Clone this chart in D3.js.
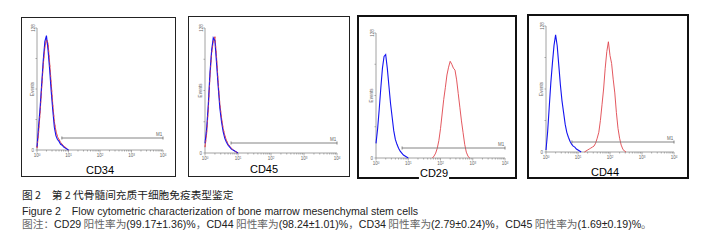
<!DOCTYPE html>
<html lang="zh">
<head>
  <meta charset="UTF-8">
  <title>flow-cytometry-histograms</title>
  <script src="https://cdn.jsdelivr.net/npm/d3@7"></script>
  <style>
    body { margin: 0; background: #fff; }
    svg { display: block; }
  </style>
</head>
<body>
<svg></svg>
<script>
  const width = 704, height = 241

  // 荧光强度位置 (log10 decade)，和每个位置的细胞数 (Events)，都是从图上估读的
  const lowDecades = [0, 0.05, 0.10, 0.15, 0.20, 0.25, 0.30, 0.35, 0.40, 0.45, 0.50,
    0.55, 0.60, 0.65, 0.70, 0.75, 0.80, 0.85, 0.90, 0.95, 1.00]
  const cd44LowDecades = [0, 0.05, 0.10, 0.15, 0.20, 0.25, 0.30, 0.35, 0.40, 0.45, 0.50,
    0.55, 0.60, 0.65, 0.70, 0.75, 0.80, 0.85, 0.90, 0.95, 1.00, 1.05, 1.10]
  const cd29HighDecades = [1.75, 1.80, 1.85, 1.90, 1.95, 2.00, 2.05, 2.10, 2.15, 2.20, 2.25, 2.30,
    2.35, 2.40, 2.45, 2.50, 2.55, 2.60, 2.65, 2.70, 2.75, 2.80, 2.85, 2.90]
  const cd44HighDecades = [1.20, 1.25, 1.30, 1.35, 1.40, 1.45, 1.50, 1.55, 1.60, 1.65, 1.70, 1.75,
    1.80, 1.85, 1.90, 1.95, 2.00, 2.05, 2.10, 2.15, 2.20, 2.25, 2.30, 2.35, 2.40, 2.45, 2.50]

  const cd34Blue = [3, 25, 45, 70, 95, 114, 120, 105, 85, 62, 42, 24, 15, 11, 9, 6, 5, 3, 2, 1, 0]
  const cd34Red = [2, 18, 40, 66, 90, 108, 116, 112, 92, 70, 48, 30, 20, 14, 11, 8, 6, 4, 3, 1, 0]
  const cd45Blue = [10, 25, 50, 82, 105, 118, 115, 92, 68, 46, 32, 22, 15, 11, 8, 6, 4, 3, 2, 1, 0]
  const cd45Red = [6, 20, 45, 78, 102, 114, 119, 98, 72, 50, 36, 25, 18, 13, 9, 7, 5, 3, 2, 1, 0]
  const cd29Blue = [15, 30, 50, 72, 92, 104, 106, 92, 74, 56, 42, 28, 19, 14, 10, 7, 5, 3, 2, 1, 0]
  const cd29Red = [0, 2, 5, 10, 18, 30, 45, 60, 72, 85, 93, 99, 96, 92, 90, 80, 66, 52, 38, 26, 14, 6, 2, 0]
  const cd44Blue = [2, 20, 45, 70, 90, 108, 119, 108, 88, 68, 52, 40, 28, 20, 15, 11, 8, 6, 5, 3, 2, 1, 0]
  const cd44Red = [0, 1, 2, 3, 4, 5, 6, 9, 14, 20, 32, 48, 64, 85, 102, 112, 98, 90, 74, 60, 40, 24, 14, 7, 3, 1, 0]

  const markers = ['CD34', 'CD45', 'CD29', 'CD44']
  const decadeLabels = ['0', '1', '2', '3', '4']
  const yMax = 128
  const m1Start = [0.79, 0.79, 0.81, 0.81]   // M1 门的起点 (decade)
  const captionTitle = '图 2　第 2 代骨髓间充质干细胞免疫表型鉴定'
  const captionEn = 'Figure 2　Flow cytometric characterization of bone marrow mesenchymal stem cells'
  const noteParts = [
    ['图注：', 'zh'], ['CD29', 'en'], [' 阳性率为', 'zh'], ['(99.17±1.36)%', 'en'], ['，', 'zh'],
    ['CD44', 'en'], [' 阳性率为', 'zh'], ['(98.24±1.01)%', 'en'], ['，', 'zh'],
    ['CD34', 'en'], [' 阳性率为', 'zh'], ['(2.79±0.24)%', 'en'], ['，', 'zh'],
    ['CD45', 'en'], [' 阳性率为', 'zh'], ['(1.69±0.19)%', 'en'], ['。', 'zh']
  ]

  const series = [
    { blue: [lowDecades, cd34Blue], red: [lowDecades, cd34Red] },
    { blue: [lowDecades, cd45Blue], red: [lowDecades, cd45Red] },
    { blue: [lowDecades, cd29Blue], red: [cd29HighDecades, cd29Red] },
    { blue: [cd44LowDecades, cd44Blue], red: [cd44HighDecades, cd44Red] }
  ]

  // 每个面板的框和绘图区 (像素)
  const layout = [
    { box: [21, 17, 176, 177], x: [37, 163], y: [150, 28], m1dy: 12, lab: [100, 174], bw: 1 },
    { box: [188, 16, 350, 177], x: [205, 337], y: [153, 28], m1dy: 10, lab: [264, 173], bw: 1 },
    { box: [357, 15, 517, 179], x: [376, 505], y: [158, 33], m1dy: 10, lab: [434, 177], bw: 2 },
    { box: [527, 14, 689, 179], x: [546, 674], y: [152, 26], m1dy: 10, lab: [605, 176], bw: 2 }
  ]

  const svg = d3.select('svg')
      .attr('width', width)
      .attr('height', height)
      .attr('viewBox', [0, 0, width, height])
      .style('font-family', 'Liberation Sans, Arial, sans-serif')

  const axisColor = '#8a8a8a'
  const zhFont = 'Noto Sans CJK SC, sans-serif'
  const enFont = 'Liberation Sans, Arial, sans-serif'

  layout.forEach((L, i) => {
    const g = svg.append('g')
    const [bx0, by0, bx1, by1] = L.box
    g.append('rect')
        .attr('x', bx0 + L.bw / 2).attr('y', by0 + L.bw / 2)
        .attr('width', bx1 - bx0 - L.bw).attr('height', by1 - by0 - L.bw)
        .attr('fill', '#fff')
        .attr('stroke', L.bw > 1 ? '#111' : '#222')
        .attr('stroke-width', L.bw)

    const x = d3.scaleLog().domain([1, 10000]).range(L.x)
    const y = d3.scaleLinear().domain([0, yMax]).range(L.y)

    // x 轴 (对数刻度)
    const xAxis = g.append('g')
        .attr('transform', `translate(0,${L.y[0]})`)
    xAxis.append('line')
        .attr('x1', L.x[0]).attr('x2', L.x[1])
        .attr('stroke', axisColor).attr('stroke-width', 0.8)
    const minor = x.ticks(40)
    xAxis.selectAll('.mt').data(minor).join('line')
        .attr('x1', d => x(d)).attr('x2', d => x(d))
        .attr('y1', 0)
        .attr('y2', d => Math.log10(d) % 1 === 0 ? 2.5 : 1.5)
        .attr('stroke', axisColor).attr('stroke-width', 0.7)
    const lbl = xAxis.selectAll('.tl').data(decadeLabels).join('text')
        .attr('x', d => x(Math.pow(10, +d)))
        .attr('y', 7)
        .attr('text-anchor', 'middle')
        .attr('fill', '#666')
        .style('font-size', '4.5px')
    lbl.append('tspan').text('10')
    lbl.append('tspan').attr('dy', -1.5).style('font-size', '3px').text(d => d)

    // y 轴
    const yAxis = g.append('g').attr('transform', `translate(${L.x[0]},0)`)
    yAxis.append('line')
        .attr('y1', y(0)).attr('y2', y(yMax))
        .attr('stroke', axisColor).attr('stroke-width', 0.8)
    yAxis.selectAll('.yt').data([0, 32, 64, 96, 128]).join('line')
        .attr('x1', -1.5).attr('x2', 0)
        .attr('y1', d => y(d)).attr('y2', d => y(d))
        .attr('stroke', axisColor).attr('stroke-width', 0.7)
    yAxis.append('text')
        .attr('x', -3).attr('y', y(0) + 1.5)
        .attr('text-anchor', 'end').attr('fill', '#666')
        .style('font-size', '4.5px').text('0')
    yAxis.append('text')
        .attr('transform', `translate(-2.5,${y(yMax)}) rotate(-90)`)
        .attr('text-anchor', 'middle').attr('fill', '#666')
        .style('font-size', '4.5px').text(yMax)
    yAxis.append('text')
        .attr('transform', `translate(-3,${y(yMax / 2)}) rotate(-90)`)
        .attr('text-anchor', 'middle').attr('fill', '#666')
        .style('font-size', '4.5px').text('Events')

    // 直方图曲线
    const line = d3.line()
        .x(d => x(Math.pow(10, d[0])))
        .y(d => y(d[1]))
    const s = series[i]
    const pts = pair => pair[0].map((d, k) => [d, pair[1][k]])
    g.append('path')
        .attr('d', line(pts(s.red)))
        .attr('fill', 'none').attr('stroke', '#e0454d').attr('stroke-width', 0.9)
    g.append('path')
        .attr('d', line(pts(s.blue)))
        .attr('fill', 'none').attr('stroke', '#1414f0').attr('stroke-width', 1.1)
    if (i < 2) {
      // 阴性对照两条几乎重合，红线在部分位置露出来
      g.append('path')
          .attr('d', line(pts(s.red)))
          .attr('fill', 'none').attr('stroke', '#e0454d').attr('stroke-width', 0.7)
          .attr('stroke-dasharray', '2,3')
    }

    // M1 门
    const m1y = L.y[0] - L.m1dy
    const mx0 = x(Math.pow(10, m1Start[i])), mx1 = x(10000)
    g.append('line')
        .attr('x1', mx0).attr('x2', mx1).attr('y1', m1y).attr('y2', m1y)
        .attr('stroke', '#777').attr('stroke-width', 0.9)
    g.selectAll('.cap').data([mx0, mx1]).join('line')
        .attr('x1', d => d).attr('x2', d => d)
        .attr('y1', m1y - 1.5).attr('y2', m1y + 1.5)
        .attr('stroke', '#777').attr('stroke-width', 0.9)
    g.append('text')
        .attr('x', mx1 - 7).attr('y', m1y - 2.5)
        .attr('fill', '#666').style('font-size', '4.5px').text('M1')

    // 面板名称
    const t = g.append('text')
        .attr('x', L.lab[0]).attr('y', L.lab[1])
        .attr('text-anchor', 'middle')
        .attr('fill', '#000')
        .style('font-size', '11px')
        .text(markers[i])
    if (i === 2) {
      const bb = t.node().getBBox()
      g.insert('rect', () => t.node())
          .attr('x', bb.x - 1).attr('y', bb.y)
          .attr('width', bb.width + 2).attr('height', bb.height + 2)
          .attr('fill', '#fff')
    }
  })

  // 图题和图注
  const cap = svg.append('g').attr('fill', '#222')
  cap.append('text')
      .attr('x', 22).attr('y', 199)
      .style('font-family', zhFont)
      .style('font-size', '10.7px')
      .text(captionTitle)
  cap.append('text')
      .attr('x', 22).attr('y', 214.5)
      .style('font-size', '10.6px')
      .text(captionEn)
  const note = cap.append('text')
      .attr('x', 22).attr('y', 227.5)
  note.selectAll('tspan').data(noteParts).join('tspan')
      .style('font-family', d => d[1] === 'zh' ? zhFont : enFont)
      .style('font-size', d => d[1] === 'zh' ? '10.7px' : '10.6px')
      .attr('fill', d => d[1] === 'zh' ? '#666' : '#222')
      .text(d => d[0])
</script>
</body>
</html>
